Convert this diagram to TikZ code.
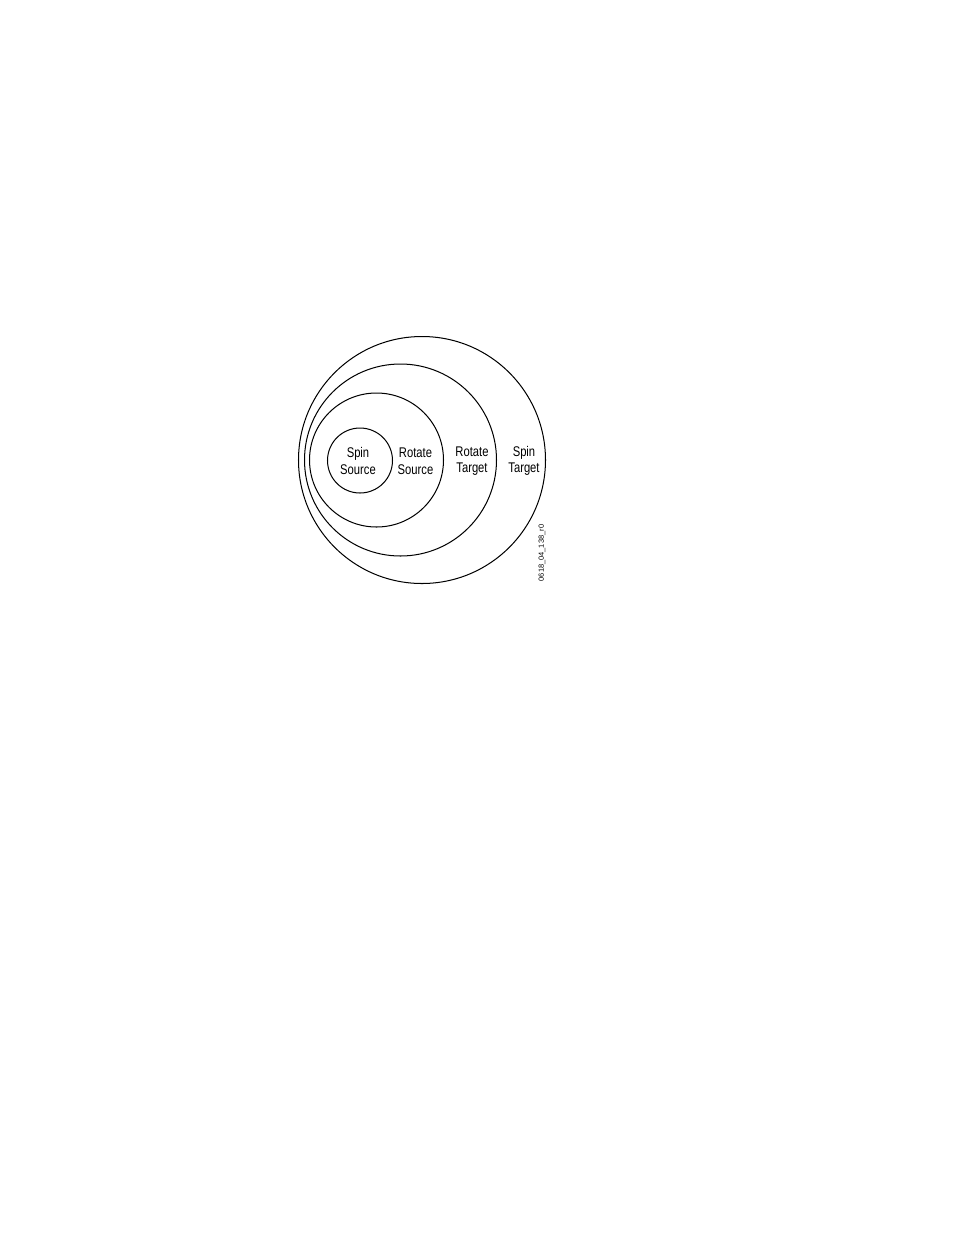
\documentclass[tikz,border=0pt]{standalone}
\usepackage{fontspec}
\setmainfont{Liberation Sans}[FakeStretch=0.8]
\newfontfamily\idfont{Liberation Sans}

\begin{document}
\begin{tikzpicture}[x=0.6415pt,y=-0.6415pt,
  ring/.style={draw,line width=0.65pt},
  lbl/.style={align=center,inner sep=0pt,font=\fontsize{9}{10.6}\selectfont}]
\useasboundingbox (0,0) rectangle (954,1235);
% nested rings, outermost first
\draw[ring] (422,460) circle [radius=123.5];
\draw[ring] (400.5,460) circle [radius=96];
\draw[ring] (376.5,460) circle [radius=67];
\draw[ring] (360,460.5) circle [radius=32.5];
\node[lbl] (spinsource) at (358,461) {Spin\\Source};
\node[lbl] (rotatesource) at (415.5,461) {Rotate\\Source};
\node[lbl] (rotatetarget) at (472,461) {Rotate\\Target};
\node[lbl] (spintarget) at (524,461) {Spin\\Target};
\node[rotate=90,inner sep=0pt,font=\idfont\fontsize{4.8}{5}\selectfont] (figid) at (542,553) {0618\_04\_138\_r0};
\end{tikzpicture}
\end{document}
